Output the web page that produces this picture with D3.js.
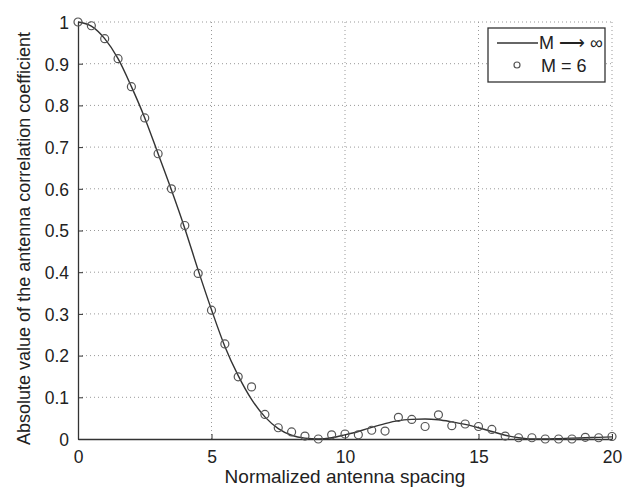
<!DOCTYPE html>
<html>
<head>
<meta charset="utf-8">
<script src="https://cdn.jsdelivr.net/npm/d3@7"></script>
<style>
  body { margin: 0; background: #fff; }
  text { font-family: "Liberation Sans", Arial, sans-serif; fill: #222; }
</style>
</head>
<body>
<svg width="641" height="489"></svg>
<script>
// theoretical curve, M -> infinity
var lineX = [0, 0.5, 1, 1.5, 2, 2.5, 3, 3.5, 4, 4.5, 5, 5.5, 6, 6.5, 7, 7.5, 8, 8.5, 9, 9.5,
             10, 10.5, 11, 11.5, 12, 12.5, 13, 13.5, 14, 14.5, 15, 15.5, 16, 16.5, 17, 17.5, 18, 18.5, 19, 19.5, 20];
var lineY = [1, 0.99, 0.96, 0.912, 0.845, 0.77, 0.684, 0.597, 0.505, 0.405, 0.31, 0.222, 0.152, 0.095, 0.053, 0.025, 0.009, 0.002, 0.0, 0.003,
             0.01, 0.018, 0.028, 0.037, 0.044, 0.047, 0.048, 0.046, 0.041, 0.035, 0.027, 0.018, 0.009, 0.003, 0.0, 0.0, 0.001, 0.002, 0.003, 0.004, 0.005];

// simulated, M = 6
var dotX = lineX;
var dotY = [1, 0.991, 0.96, 0.912, 0.845, 0.77, 0.684, 0.6, 0.512, 0.397, 0.309, 0.228, 0.149, 0.125, 0.059, 0.027, 0.017, 0.007, 0.0, 0.01,
            0.012, 0.01, 0.021, 0.019, 0.052, 0.047, 0.03, 0.058, 0.032, 0.036, 0.03, 0.023, 0.007, 0.003, 0.003, 0.0, 0.0, 0.0, 0.004, 0.003, 0.006];

var xTicks = [0, 5, 10, 15, 20];
var yTicks = [0, 0.1, 0.2, 0.3, 0.4, 0.5, 0.6, 0.7, 0.8, 0.9, 1];

var svg = d3.select("svg"),
    margin = {top: 22, right: 29, bottom: 50, left: 78},
    width = svg.attr("width") - margin.left - margin.right,
    height = svg.attr("height") - margin.top - margin.bottom,
    g = svg.append("g").attr("transform", "translate(" + margin.left + "," + margin.top + ")");

var x = d3.scaleLinear().domain([0, 20]).range([0, width]),
    y = d3.scaleLinear().domain([0, 1]).range([height, 0]);

// dotted grid
g.append("g")
    .selectAll("line")
    .data(xTicks.slice(1))
    .enter().append("line")
    .attr("x1", function(d) { return x(d); })
    .attr("x2", function(d) { return x(d); })
    .attr("y1", 0)
    .attr("y2", height)
    .attr("stroke", "#999")
    .attr("stroke-dasharray", "1,3");

g.append("g")
    .selectAll("line")
    .data(yTicks.slice(1))
    .enter().append("line")
    .attr("x1", 0)
    .attr("x2", width)
    .attr("y1", function(d) { return y(d); })
    .attr("y2", function(d) { return y(d); })
    .attr("stroke", "#999")
    .attr("stroke-dasharray", "1,3");

// axes, ticks pointing inwards
var xAxis = g.append("g")
    .attr("transform", "translate(0," + height + ")")
    .call(d3.axisBottom(x).tickValues(xTicks).tickSizeInner(-5).tickSizeOuter(0).tickPadding(12));

var yAxis = g.append("g")
    .call(d3.axisLeft(y).tickValues(yTicks).tickFormat(function(d) { return d === 0 || d === 1 ? d : d.toFixed(1); })
      .tickSizeInner(-5).tickSizeOuter(0).tickPadding(9));

[xAxis, yAxis].forEach(function(a) {
  a.select(".domain").attr("stroke", "#333").attr("stroke-width", 1.3);
  a.selectAll(".tick line").attr("stroke", "#333");
  a.selectAll(".tick text").style("font-size", "17.5px").attr("fill", "#222");
});
yAxis.selectAll(".tick text").attr("dy", "0.36em");

var line = d3.line()
    .curve(d3.curveMonotoneX)
    .x(function(d) { return x(d[0]); })
    .y(function(d) { return y(d[1]); });

g.append("path")
    .datum(d3.zip(lineX, lineY))
    .attr("d", line)
    .attr("fill", "none")
    .attr("stroke", "#333")
    .attr("stroke-width", 1.4);

g.append("g")
    .selectAll("circle")
    .data(d3.zip(dotX, dotY))
    .enter().append("circle")
    .attr("cx", function(d) { return x(d[0]); })
    .attr("cy", function(d) { return y(d[1]); })
    .attr("r", 4)
    .attr("fill", "none")
    .attr("stroke", "#555")
    .attr("stroke-width", 1.2);

// axis labels
svg.append("text")
    .attr("x", margin.left + width / 2)
    .attr("y", 483)
    .attr("text-anchor", "middle")
    .style("font-size", "19px")
    .text("Normalized antenna spacing");

svg.append("text")
    .attr("transform", "translate(30," + (margin.top + height / 2 + 8) + ") rotate(-90)")
    .attr("text-anchor", "middle")
    .style("font-size", "18px")
    .text("Absolute value of the antenna correlation coefficient");

// legend
var leg = svg.append("g").attr("transform", "translate(488,28)");
leg.append("rect")
    .attr("width", 117)
    .attr("height", 54)
    .attr("fill", "#fff")
    .attr("stroke", "#333")
    .attr("stroke-width", 1.3);
leg.append("line")
    .attr("x1", 9).attr("x2", 50)
    .attr("y1", 15).attr("y2", 15)
    .attr("stroke", "#333").attr("stroke-width", 1.4);
leg.append("text")
    .attr("x", 51).attr("y", 21)
    .style("font-size", "18px")
    .text("M \u27f6 \u221e");
leg.append("circle")
    .attr("cx", 29).attr("cy", 37).attr("r", 3)
    .attr("fill", "none").attr("stroke", "#555").attr("stroke-width", 1.2);
leg.append("text")
    .attr("x", 53).attr("y", 44)
    .style("font-size", "18px")
    .text("M = 6");
</script>
</body>
</html>
